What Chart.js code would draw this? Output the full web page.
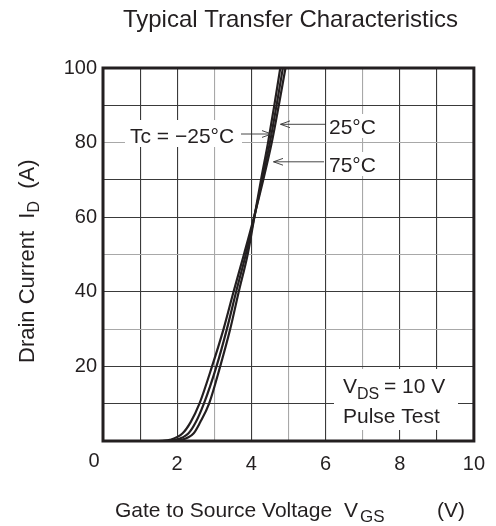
<!DOCTYPE html>
<html><head><meta charset="utf-8">
<script src="https://cdn.jsdelivr.net/npm/chart.js@4/dist/chart.umd.min.js"></script>
<style>html,body{margin:0;padding:0;background:#fff;}canvas{display:block;}</style>
</head><body>
<canvas id="c" width="496" height="526"></canvas>
<script>
// Drain current I_D (A) sample levels shared by all curves
const drainCurrent = [0, 0, 0.3, 2, 5, 10, 20, 30, 40, 50, 60, 70, 80, 90, 100];
// Gate-source voltage V_GS (V) for each case temperature
const vgsMinus25 = [0, 1.7, 2.1, 2.44, 2.62, 2.86, 3.16, 3.43, 3.66, 3.90, 4.08, 4.26, 4.45, 4.62, 4.78];
const vgs25      = [0, 1.6, 1.95, 2.30, 2.50, 2.72, 3.06, 3.34, 3.59, 3.85, 4.08, 4.29, 4.50, 4.68, 4.85];
const vgs75      = [0, 1.5, 1.8, 2.14, 2.36, 2.60, 2.94, 3.25, 3.52, 3.80, 4.07, 4.32, 4.55, 4.74, 4.92];
const seriesNames = ['Tc = \u221225\u00b0C', '25\u00b0C', '75\u00b0C'];
const xTickLabels = ['2', '4', '6', '8', '10'];
const yTickLabels = ['20', '40', '60', '80', '100'];
const lightGridX = [3, 5, 7];
const lightGridY = [30, 50, 80];

const FONT = '"Liberation Sans", Arial, Helvetica, sans-serif';
const INK = '#231f20';

function pts(xs, ys) { return xs.map((x, i) => ({ x: x, y: ys[i] })); }

function ds(label, xs) {
  return {
    label: label, data: pts(xs, drainCurrent), showLine: true, pointRadius: 0,
    borderColor: INK, borderWidth: 2.2, cubicInterpolationMode: 'monotone', fill: false
  };
}

function drawRich(ctx, x, y, parts) {
  let cx = x;
  parts.forEach(p => {
    ctx.font = p.font;
    ctx.fillText(p.t, cx, y + (p.dy || 0));
    cx += ctx.measureText(p.t).width + (p.gap || 0);
  });
}

const decor = {
  id: 'decor',
  beforeDatasetsDraw(chart) {
    const ctx = chart.ctx;
    ctx.save();
    ctx.fillStyle = '#fff';
    ctx.fillRect(125, 120, 117, 27);
    ctx.fillRect(327, 114, 54, 24);
    ctx.fillRect(327, 152, 54, 24);
    ctx.fillRect(334, 369, 124, 61);
    ctx.restore();
  },
  afterDraw(chart) {
    const ctx = chart.ctx;
    const a = chart.chartArea;
    ctx.save();
    // frame
    ctx.strokeStyle = INK;
    ctx.lineWidth = 3;
    ctx.strokeRect(a.left, a.top, a.right - a.left, a.bottom - a.top);

    ctx.fillStyle = INK;
    ctx.textBaseline = 'alphabetic';
    // title
    ctx.font = '24px ' + FONT;
    ctx.textAlign = 'center';
    ctx.fillText('Typical Transfer Characteristics', 290.5, 26.5);
    // corner zero
    ctx.font = '20px ' + FONT;
    ctx.textAlign = 'center';
    ctx.textBaseline = 'middle';
    ctx.fillText('0', 94, 461);
    ctx.textBaseline = 'alphabetic';
    ctx.textAlign = 'left';

    // x axis title
    ctx.font = '21px ' + FONT;
    ctx.fillText('Gate to Source Voltage', 115, 517);
    ctx.fillText('V', 344, 517);
    ctx.font = '17px ' + FONT;
    ctx.fillText('GS', 360, 522);
    ctx.font = '21px ' + FONT;
    ctx.fillText('(V)', 437, 517);

    // y axis title (rotated)
    ctx.save();
    ctx.translate(34, 363);
    ctx.rotate(-Math.PI / 2);
    drawRich(ctx, 0, 0, [
      { t: 'Drain Current  I', font: '22px ' + FONT },
      { t: 'D', font: '16px ' + FONT, dy: 5 },
      { t: '  (A)', font: '22px ' + FONT }
    ]);
    ctx.restore();

    // curve labels
    ctx.font = '21px ' + FONT;
    ctx.fillText(seriesNames[0], 130, 143);
    ctx.fillText(seriesNames[1], 329, 134.3);
    ctx.fillText(seriesNames[2], 329, 172.3);

    // test condition
    ctx.fillText('V', 343, 393);
    ctx.font = '16px ' + FONT;
    ctx.fillText('DS', 357, 399);
    ctx.font = '21px ' + FONT;
    ctx.fillText('= 10 V', 384, 393);
    ctx.fillText('Pulse Test', 343, 422.7);

    // arrows
    ctx.strokeStyle = '#333';
    ctx.lineWidth = 0.9;
    const arrow = (x1, y, x2, dir) => {
      ctx.beginPath();
      ctx.moveTo(x1, y); ctx.lineTo(x2, y);
      ctx.moveTo(x1, y); ctx.lineTo(x1 + dir * 9.5, y - 3.4);
      ctx.moveTo(x1, y); ctx.lineTo(x1 + dir * 9.5, y + 3.4);
      ctx.stroke();
    };
    arrow(271.5, 134, 241, -1);
    arrow(280.5, 124.3, 326, 1);
    arrow(273.5, 161.8, 324, 1);
    ctx.restore();
  }
};

new Chart(document.getElementById('c'), {
  type: 'scatter',
  data: { datasets: [ds(seriesNames[0], vgsMinus25), ds(seriesNames[1], vgs25), ds(seriesNames[2], vgs75)] },
  options: {
    responsive: false, animation: false, devicePixelRatio: 1,
    layout: { padding: { top: 68, right: 18, left: 0, bottom: 0 } },
    plugins: { legend: { display: false }, tooltip: { enabled: false }, title: { display: false } },
    scales: {
      x: {
        type: 'linear', min: 0, max: 10,
        afterFit: s => { s.height = 85; },
        border: { display: false },
        grid: {
          drawTicks: false, lineWidth: 1.1,
          color: c => lightGridX.includes(c.tick.value) ? '#a8a8a8' : '#3a3a3a'
        },
        ticks: {
          stepSize: 1, autoSkip: false, maxRotation: 0, padding: 11, color: INK,
          font: { family: FONT, size: 20 },
          callback: v => xTickLabels.includes(String(v)) ? String(v) : ''
        }
      },
      y: {
        type: 'linear', min: 0, max: 100,
        afterFit: s => { s.width = 103; },
        border: { display: false },
        grid: {
          drawTicks: false, lineWidth: 1.1,
          color: c => lightGridY.includes(c.tick.value) ? '#a8a8a8' : '#3a3a3a'
        },
        ticks: {
          stepSize: 10, autoSkip: false, padding: 6, color: INK,
          font: { family: FONT, size: 20 },
          callback: v => yTickLabels.includes(String(v)) ? String(v) : ''
        }
      }
    }
  },
  plugins: [decor]
});
</script>
</body></html>
